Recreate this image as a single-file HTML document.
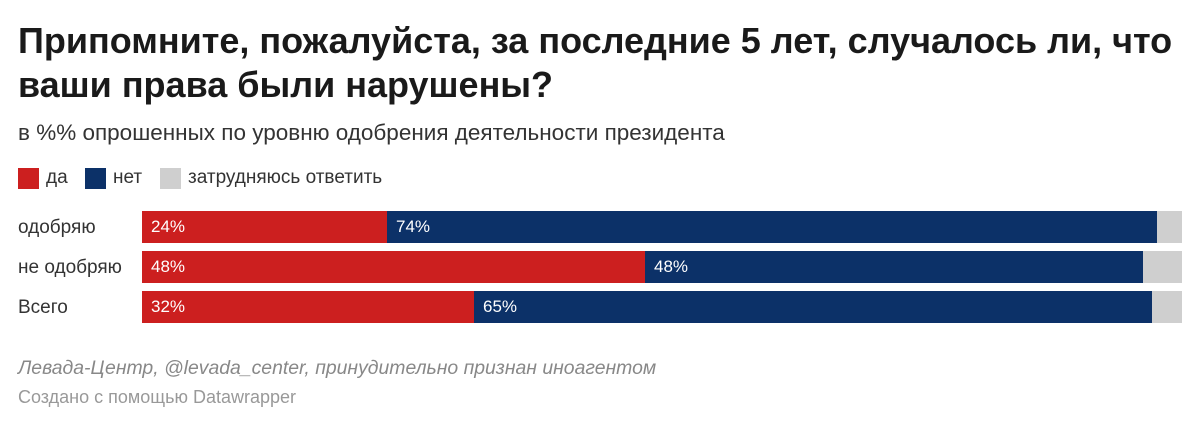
<!DOCTYPE html>
<html><head><meta charset="utf-8"><style>
body{margin:0;width:1200px;height:425px;background:#fff;font-family:"Liberation Sans",sans-serif;color:#222;position:relative;overflow:hidden}
.t{position:absolute;left:18px;top:19px;font-size:36px;font-weight:bold;line-height:44px;color:#1a1a1a;white-space:nowrap}
.s{position:absolute;left:18px;top:120px;font-size:22.5px;color:#333;white-space:nowrap}
.lg{position:absolute;top:167px;font-size:19px;color:#333;display:flex;align-items:center;white-space:nowrap}
.sw{width:21px;height:21px;display:inline-block;margin-right:7px}
.lab{position:absolute;left:18px;font-size:19px;color:#333;white-space:nowrap}
.bar{position:absolute;height:32px}
.v{position:absolute;font-size:17px;color:#fff;line-height:32px}
.f1{position:absolute;left:18px;top:357px;font-size:19.4px;font-style:italic;color:#888;white-space:nowrap}
.f2{position:absolute;left:18px;top:387px;font-size:18px;color:#999;white-space:nowrap}
</style></head><body>
<div class="t">Припомните, пожалуйста, за последние 5 лет, случалось ли, что<br>ваши права были нарушены?</div>
<div class="s">в %% опрошенных по уровню одобрения деятельности президента</div>
<div class="lg" style="left:18px"><span class="sw" style="background:#cc1f1f"></span>да</div>
<div class="lg" style="left:85px"><span class="sw" style="background:#0c3168"></span>нет</div>
<div class="lg" style="left:160px"><span class="sw" style="background:#cfcfcf"></span>затрудняюсь ответить</div>

<div class="lab" style="top:217px">одобряю</div>
<div class="bar" style="top:211px;left:142px;width:245px;background:#cc1f1f"></div>
<div class="bar" style="top:211px;left:387px;width:770px;background:#0c3168"></div>
<div class="bar" style="top:211px;left:1157px;width:25px;background:#cfcfcf"></div>
<div class="v" style="top:211px;left:151px">24%</div>
<div class="v" style="top:211px;left:396px">74%</div>

<div class="lab" style="top:257px">не одобряю</div>
<div class="bar" style="top:251px;left:142px;width:503px;background:#cc1f1f"></div>
<div class="bar" style="top:251px;left:645px;width:498px;background:#0c3168"></div>
<div class="bar" style="top:251px;left:1143px;width:39px;background:#cfcfcf"></div>
<div class="v" style="top:251px;left:151px">48%</div>
<div class="v" style="top:251px;left:654px">48%</div>

<div class="lab" style="top:297px">Всего</div>
<div class="bar" style="top:291px;left:142px;width:332px;background:#cc1f1f"></div>
<div class="bar" style="top:291px;left:474px;width:678px;background:#0c3168"></div>
<div class="bar" style="top:291px;left:1152px;width:30px;background:#cfcfcf"></div>
<div class="v" style="top:291px;left:151px">32%</div>
<div class="v" style="top:291px;left:483px">65%</div>

<div class="f1">Левада-Центр, @levada_center, принудительно признан иноагентом</div>
<div class="f2">Создано с помощью Datawrapper</div>
</body></html>
